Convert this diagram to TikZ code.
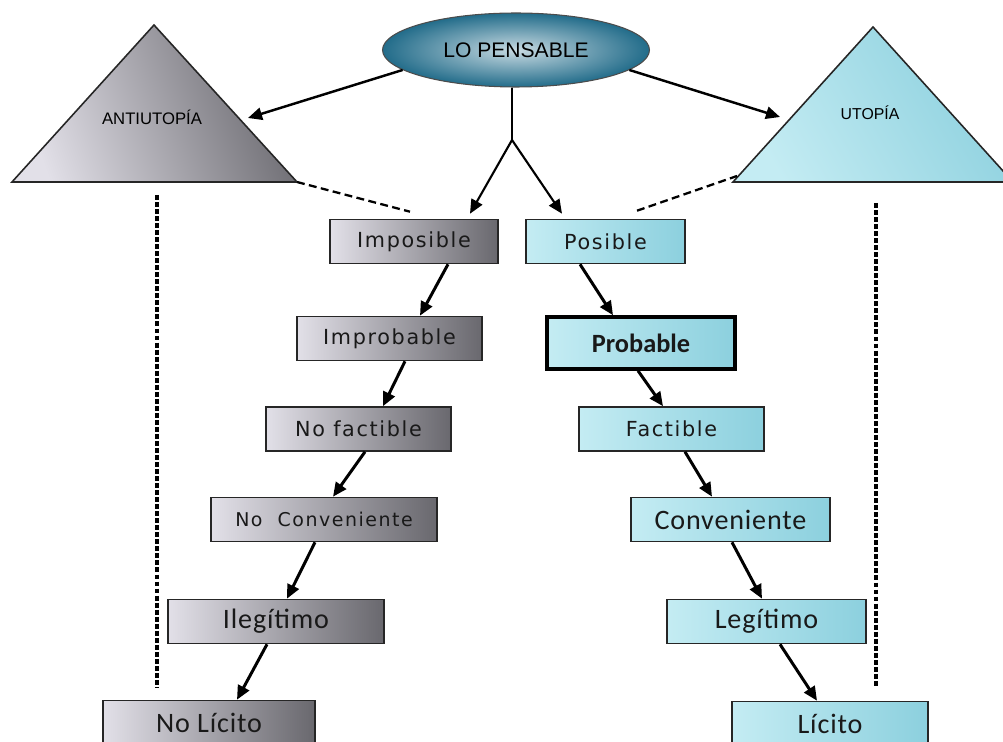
\documentclass[tikz,border=0pt]{standalone}
\usepackage{fontspec}
\setmainfont{Liberation Sans}
\newfontfamily\verd[LetterSpace=8]{DejaVu Sans}
\newfontfamily\cali[LetterSpace=3]{Carlito}
\usetikzlibrary{arrows.meta,shapes.geometric}

\definecolor{grisclaro}{RGB}{226,224,232}
\definecolor{grisoscuro}{RGB}{105,104,110}
\definecolor{aguaclaro}{RGB}{196,236,243}
\definecolor{aguaoscuro}{RGB}{140,208,222}
\definecolor{petroleo}{RGB}{34,108,138}

\tikzset{
  caja/.style={draw=black!85,line width=0.9pt,inner sep=0pt,
    minimum height=0.88cm,text=black!90},
  grisbox/.style={caja,left color=grisclaro,middle color=grisclaro!90!grisoscuro,
    right color=grisoscuro},
  azulbox/.style={caja,left color=aguaclaro,middle color=aguaclaro!80!aguaoscuro,
    right color=aguaoscuro},
  flecha/.style={->,line width=1.7pt,black},
  flechafina/.style={->,line width=1.2pt,black},
  guion/.style={line width=1.3pt,dash pattern=on 4.5pt off 2.5pt},
  punteado/.style={line width=2pt,dash pattern=on 2.8pt off 1.2pt}
}

\begin{document}
\begin{tikzpicture}[>={Triangle[length=8pt,width=7pt]},x=0.02cm,y=-0.02cm]

	\useasboundingbox (0,0) rectangle (1003,742);
	\clip (0,0) rectangle (1003,742);

	% triangulos
	\coordinate (antiTop) at (154,25);
	\coordinate (antiIzq) at (12,182);
	\coordinate (antiDer) at (297,182);
	\coordinate (utoTop) at (873,27);
	\coordinate (utoIzq) at (733,182);
	\coordinate (utoDer) at (1013,182);

	\shade[left color=grisclaro,right color=grisoscuro,shading angle=110,draw=black!85,line width=0.9pt]
		(antiTop) -- (antiDer) -- (antiIzq) -- cycle;
	\shade[left color=aguaclaro,right color=aguaoscuro,shading angle=120,draw=black!85,line width=0.9pt]
		(utoTop) -- (utoDer) -- (utoIzq) -- cycle;

	\node[font=\fontsize{9.5}{10}\selectfont] (anti) at (152,117) {ANTIUTOPÍA};
	\node[font=\fontsize{9}{10}\selectfont] (uto) at (870,113) {UTOPÍA};

	% elipse
	\node[ellipse,draw=black!70,line width=0.6pt,inner color=white!75!petroleo,outer color=petroleo,
		minimum width=5.34cm,minimum height=1.48cm,inner sep=0pt,
		font=\fontsize{12}{12}\selectfont] (pens) at (516,50) {LO PENSABLE};

	% cajas
	\node[grisbox,minimum width=3.36cm,font=\verd\fontsize{11.8}{12}\selectfont] (imp) at (414,241.5) {Imposible};
	\node[grisbox,minimum width=3.7cm,font=\verd\fontsize{11.8}{12}\selectfont] (impr) at (389.5,338.5) {Improbable};
	\node[grisbox,minimum width=3.7cm,font=\verd\fontsize{11.8}{12}\selectfont] (nofa) at (358.5,429) {No factible};
	\node[grisbox,minimum width=4.52cm,font=\verd\fontsize{10.8}{12}\selectfont] (noco) at (324,519.5) {No\ \ Conveniente};
	\node[grisbox,minimum width=4.32cm,font=\cali\fontsize{16}{16}\selectfont] (ileg) at (276,621.5) {Ilegítimo};
	\node[grisbox,minimum width=4.24cm,font=\cali\fontsize{16}{16}\selectfont] (noli) at (209,722.5) {No Lícito};

	\node[azulbox,minimum width=3.18cm,font=\verd\fontsize{11.8}{12}\selectfont] (pos) at (605.5,241.5) {Posible};
	\node[azulbox,draw=black,line width=2pt,minimum width=3.76cm,minimum height=1.04cm,
		font=\fontspec{Carlito}\bfseries\fontsize{15}{16}\selectfont] (prob) at (641,343) {Probable};
	\node[azulbox,minimum width=3.7cm,font=\verd\fontsize{11.8}{12}\selectfont] (fac) at (671.5,429) {Factible};
	\node[azulbox,minimum width=3.98cm,font=\cali\fontsize{16}{16}\selectfont] (conv) at (730.5,519.5) {Conveniente};
	\node[azulbox,minimum width=3.98cm,font=\cali\fontsize{16}{16}\selectfont] (leg) at (766.5,621.5) {Legítimo};
	\node[azulbox,minimum width=3.92cm,font=\cali\fontsize{16}{16}\selectfont] (lici) at (830,723.5) {Lícito};

	% desde lo pensable
	\coordinate (antiPunta) at (248,118);
	\coordinate (utoPunta) at (780,117);
	\coordinate (split) at (512,140);
	\draw[flechafina,line width=1.4pt] (pens.190) -- (antiPunta);
	\draw[flechafina,line width=1.4pt] (pens.-10) -- (utoPunta);
	\draw[line width=1pt] ([xshift=-0.08cm]pens.south) -- (split);
	\draw[flechafina] (split) -- ([xshift=1.12cm,yshift=0.1cm]imp.north);
	\draw[flechafina] (split) -- ([xshift=-0.87cm,yshift=0.1cm]pos.north);

	% lineas punteadas
	\coordinate (utoBase) at (737,176);
	\draw[guion] (antiDer) -- ([xshift=-0.08cm,yshift=0.14cm]imp.north);
	\draw[guion] ([xshift=0.63cm,yshift=0.16cm]pos.north) -- (utoBase);

	\coordinate (izqArriba) at (157,195);
	\coordinate (izqAbajo) at (157,687);
	\coordinate (derArriba) at (876,203);
	\coordinate (derAbajo) at (876,687);
	\draw[punteado] (izqArriba) -- (izqAbajo);
	\draw[punteado] (derArriba) -- (derAbajo);

	% cadena izquierda
	\draw[flecha] ([xshift=0.68cm]imp.south) -- ([xshift=0.61cm]impr.north);
	\draw[flecha] ([xshift=0.31cm]impr.south) -- ([xshift=0.49cm]nofa.north);
	\draw[flecha] ([xshift=0.13cm]nofa.south) -- ([xshift=0.18cm]noco.north);
	\draw[flecha] ([xshift=-0.18cm]noco.south) -- ([xshift=0.22cm]ileg.north);
	\draw[flecha] ([xshift=-0.18cm]ileg.south) -- ([xshift=0.56cm]noli.north);

	% cadena derecha
	\draw[flecha] ([xshift=-0.51cm]pos.south) -- ([xshift=-0.56cm]prob.north);
	\draw[flecha] ([xshift=-0.06cm]prob.south) -- ([xshift=-0.17cm]fac.north);
	\draw[flecha] ([xshift=0.27cm]fac.south) -- ([xshift=-0.37cm]conv.north);
	\draw[flecha] ([xshift=0.03cm]conv.south) -- ([xshift=-0.09cm]leg.north);
	\draw[flecha] ([xshift=0.27cm]leg.south) -- ([xshift=-0.26cm]lici.north);

\end{tikzpicture}
\end{document}
